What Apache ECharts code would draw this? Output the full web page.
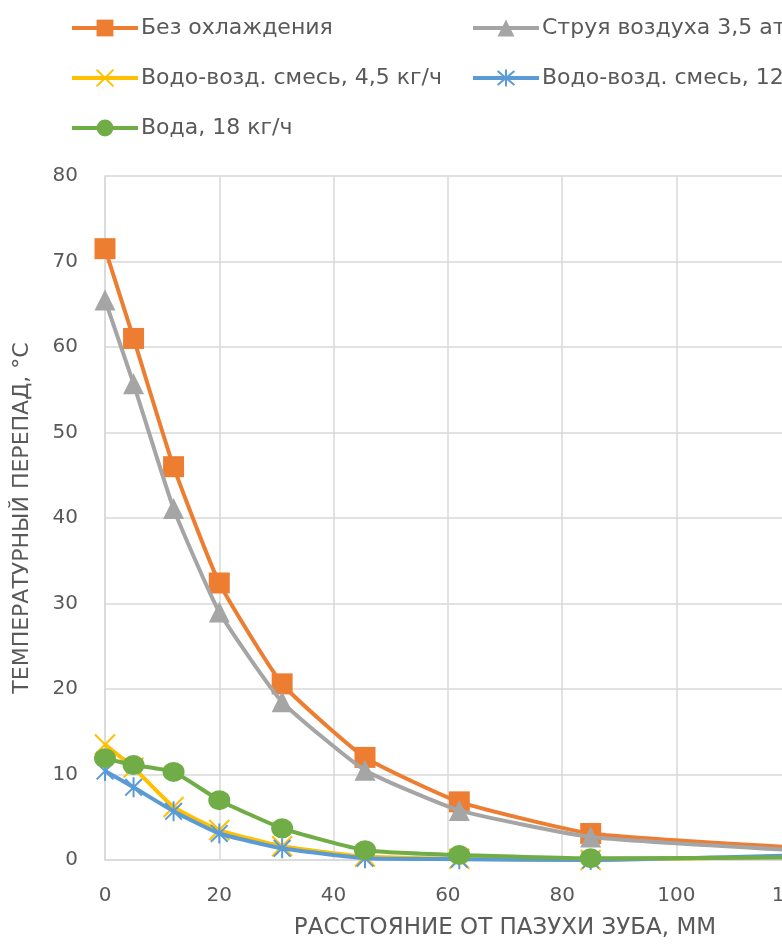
<!DOCTYPE html>
<html>
<head>
<meta charset="utf-8">
<script src="https://cdn.jsdelivr.net/npm/echarts@6/dist/echarts.min.js"></script>
<style>
html,body{margin:0;padding:0;background:#fff;}
#chart{width:782px;height:947px;}
</style>
</head>
<body>
<div id="chart"></div>
<script>
const distances = [0, 5, 12, 20, 31, 45.5, 62, 85, 125];
const noCooling = [71.5, 61.0, 46.0, 32.4, 20.6, 12.0, 6.8, 3.1, 1.3];
const airJet = [65.5, 55.7, 41.1, 29.0, 18.5, 10.5, 5.8, 2.7, 1.0];
const mix45 = [13.5, 10.8, 6.2, 3.5, 1.6, 0.4, 0.15, 0.0, 0.45];
const mixHigh = [10.4, 8.5, 5.7, 3.1, 1.37, 0.2, 0.1, 0.0, 0.6];
const water18 = [11.9, 11.1, 10.3, 7.0, 3.7, 1.15, 0.58, 0.2, 0.3];

const seriesNames = [
  'Без охлаждения',
  'Струя воздуха 3,5 атм',
  'Водо-возд. смесь, 4,5 кг/ч',
  'Водо-возд. смесь, 12 кг/ч',
  'Вода, 18 кг/ч'
];
const yTicks = [0, 10, 20, 30, 40, 50, 60, 70, 80];
const xTicks = [0, 20, 40, 60, 80, 100, 120, 140];

const colors = ['#ED7D31', '#A5A5A5', '#FFC000', '#5B9BD5', '#70AD47'];
const FONT = 'DejaVu Sans';
const TXT = '#595959';

function pairs(ys) { return distances.map((x, i) => [x, ys[i]]); }

const X_PATH = 'path://M0,0L20,20M20,0L0,20';
const STAR_PATH = 'path://M0,0L20,20M20,0L0,20M10,-2L10,22';

const seriesData = [noCooling, airJet, mix45, mixHigh, water18];
const symbols = ['rect', 'triangle', X_PATH, STAR_PATH, 'circle'];
const symbolSizes = [21, 21, 20, 20, [22, 20]];

const series = seriesData.map((ys, i) => ({
  name: seriesNames[i],
  type: 'line',
  data: pairs(ys),
  smooth: 0.15,
  symbol: symbols[i],
  symbolSize: symbolSizes[i],
  symbolKeepAspect: true,
  showAllSymbol: true,
  z: 2 + i,
  lineStyle: { color: colors[i], width: 4 },
  itemStyle: {
    color: colors[i],
    borderColor: colors[i],
    borderWidth: (i === 2 || i === 3) ? 2 : 0
  },
  emphasis: { disabled: true },
  animation: false
}));

const legendPos = [
  { left: 70, top: 17 },
  { left: 471, top: 17 },
  { left: 70, top: 67 },
  { left: 471, top: 67 },
  { left: 70, top: 117 }
];
const legends = seriesNames.map((n, i) => ({
  data: [n],
  left: legendPos[i].left,
  top: legendPos[i].top,
  orient: 'horizontal',
  itemWidth: 66,
  itemHeight: 21,
  itemGap: 0,
  padding: 0,
  selectedMode: false,
  lineStyle: { width: 4 },
  textStyle: { fontFamily: FONT, fontSize: 22, color: TXT, padding: [0, 0, 0, -2] }
}));

const chart = echarts.init(document.getElementById('chart'), null, { renderer: 'canvas' });
chart.setOption({
  backgroundColor: '#ffffff',
  animation: false,
  legend: legends,
  grid: { left: 105, top: 176, height: 684, width: 800, containLabel: false, outerBoundsMode: 'none' },
  xAxis: {
    type: 'value',
    min: xTicks[0],
    max: xTicks[xTicks.length - 1],
    interval: 20,
    name: 'РАССТОЯНИЕ ОТ ПАЗУХИ ЗУБА, ММ',
    nameLocation: 'middle',
    nameGap: 57,
    nameTextStyle: { fontFamily: FONT, fontSize: 23, color: TXT },
    axisLine: { show: true, lineStyle: { color: '#D9D9D9', width: 1.5 } },
    axisTick: { show: false },
    axisLabel: { fontFamily: FONT, fontSize: 20, color: TXT, margin: 26 },
    splitLine: { show: true, lineStyle: { color: '#D9D9D9', width: 1.5 } }
  },
  yAxis: {
    type: 'value',
    min: yTicks[0],
    max: yTicks[yTicks.length - 1],
    interval: 10,
    name: 'ТЕМПЕРАТУРНЫЙ ПЕРЕПАД, °C',
    nameLocation: 'middle',
    nameGap: 72,
    nameRotate: 90,
    nameTextStyle: { fontFamily: FONT, fontSize: 22, color: TXT },
    axisLine: { show: true, lineStyle: { color: '#D9D9D9', width: 1.5 } },
    axisTick: { show: false },
    axisLabel: { fontFamily: FONT, fontSize: 20, color: TXT, margin: 27 },
    splitLine: { show: true, lineStyle: { color: '#D9D9D9', width: 1.5 } }
  },
  series: series
});
</script>
</body>
</html>
